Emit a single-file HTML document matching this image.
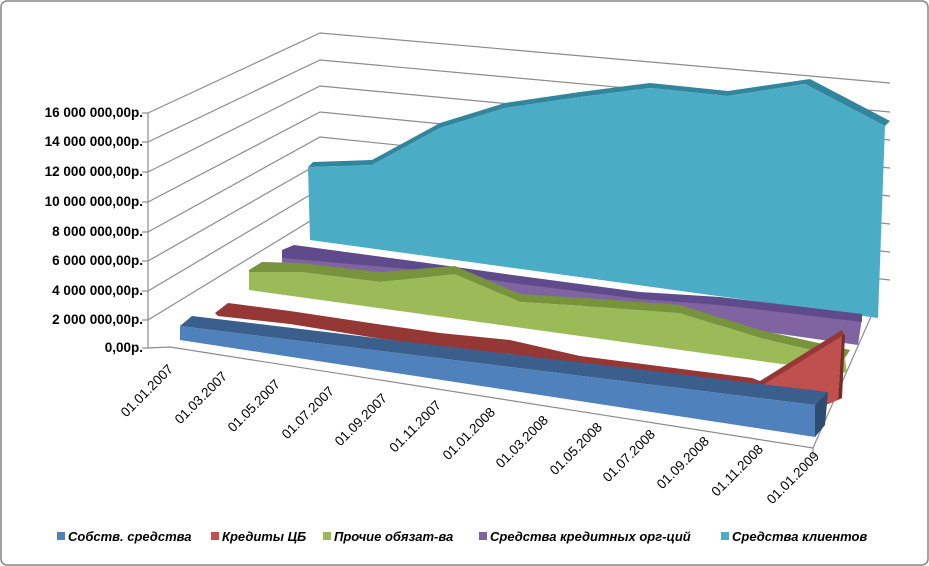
<!DOCTYPE html>
<html><head><meta charset="utf-8"><style>
body{margin:0;background:#fff}
svg{display:block}
text{font-family:"Liberation Sans",sans-serif}
</style></head><body>
<svg width="929" height="566" viewBox="0 0 929 566">
<rect x="1" y="1" width="927" height="564" rx="6" fill="#fff" stroke="#868686" stroke-width="1.5"/>
<g stroke="#8c8c8c" stroke-width="1.2" fill="none">
<polyline points="148,113 320,33 890,83"/>
<polyline points="148,142 320,60 890,112"/>
<polyline points="148,172 320,86 890,140"/>
<polyline points="148,202 320,112 890,168"/>
<polyline points="148,232 320,137 890,196"/>
<polyline points="148,261 320,163 890,224"/>
<polyline points="148,291 320,189 890,252"/>
<polyline points="148,320 320,215 890,280"/>
<line x1="148" y1="113" x2="148" y2="348"/>
<polyline points="148,348 170,347 813,448 877,303"/>
<line x1="813" y1="448" x2="813" y2="456"/>
</g>
<g stroke="#8c8c8c" stroke-width="1.2">
<line x1="142" y1="113" x2="148" y2="113"/><line x1="142" y1="142" x2="148" y2="142"/><line x1="142" y1="172" x2="148" y2="172"/><line x1="142" y1="202" x2="148" y2="202"/><line x1="142" y1="232" x2="148" y2="232"/><line x1="142" y1="261" x2="148" y2="261"/><line x1="142" y1="291" x2="148" y2="291"/><line x1="142" y1="320" x2="148" y2="320"/><line x1="142" y1="348" x2="148" y2="348"/>
</g>
<!-- cyan -->
<polygon points="308,167 372,165 440,128 505,108 580,97 650,88 728,96 805,84 885,126 890,121 810,79 728,91 650,83 580,92 505,103 440,123 372,160 313,162" fill="#31859c"/>
<polygon points="308,167 372,165 440,128 505,108 580,97 650,88 728,96 805,84 885,126 878,318 310,240" fill="#4bacc6"/>
<!-- purple -->
<polygon points="282,256 282,263 858,345 862,318 720,302 640,297 520,281 420,267" fill="#8064a2"/>
<polygon points="282,250 294,245 420,262 520,276 640,292 720,297 862,314 862,322 720,305 640,299 520,284 420,270 282,258" fill="#5f4b8b"/>
<!-- green -->
<polygon points="249,270 262,262 300,263 380,272 455,266 520,294 600,299 680,305 760,330 850,350 845,358 760,338 680,313 600,307 520,302 455,274 380,282 300,272 249,272" fill="#77933c"/>
<polygon points="249,272 300,272 380,282 455,274 520,302 600,307 680,313 760,338 845,358 847,373 249,290" fill="#9bbb59"/>
<!-- red -->
<polygon points="215,313 228,303 290,311 370,323 440,333 510,340 580,356 752,378 760,381 842,330 845,336 758,388 580,368 510,354 440,347 370,337 290,324 218,316" fill="#953735"/>
<polygon points="758,388 842,336 838,400 826,405" fill="#c0504d"/>
<polygon points="838,400 842,336 845,334 842,398" fill="#772c2a"/>
<!-- blue -->
<polygon points="180,326 192,316 828,392 815,405" fill="#3a5f8c"/>
<polygon points="180,326 815,405 815,437 180,340" fill="#4f81bd"/>
<polygon points="815,405 828,392 825,425 815,437" fill="#2e4b70"/>
<g font-size="13.5" font-weight="bold" fill="#000" text-anchor="end">
<text x="143" y="117">16 000 000,00р.</text>
<text x="143" y="146">14 000 000,00р.</text>
<text x="143" y="176">12 000 000,00р.</text>
<text x="143" y="206">10 000 000,00р.</text>
<text x="143" y="236">8 000 000,00р.</text>
<text x="143" y="265">6 000 000,00р.</text>
<text x="143" y="295">4 000 000,00р.</text>
<text x="143" y="324">2 000 000,00р.</text>
<text x="143" y="352">0,00р.</text>
</g>
<g font-size="13.5" fill="#000" text-anchor="end">
<text transform="translate(174,370) rotate(-45)">01.01.2007</text>
<text transform="translate(228,377) rotate(-45)">01.03.2007</text>
<text transform="translate(281,385) rotate(-45)">01.05.2007</text>
<text transform="translate(335,392) rotate(-45)">01.07.2007</text>
<text transform="translate(388,399) rotate(-45)">01.09.2007</text>
<text transform="translate(442,406) rotate(-45)">01.11.2007</text>
<text transform="translate(496,413) rotate(-45)">01.01.2008</text>
<text transform="translate(549,421) rotate(-45)">01.03.2008</text>
<text transform="translate(603,428) rotate(-45)">01.05.2008</text>
<text transform="translate(656,435) rotate(-45)">01.07.2008</text>
<text transform="translate(710,442) rotate(-45)">01.09.2008</text>
<text transform="translate(764,450) rotate(-45)">01.11.2008</text>
<text transform="translate(820,457) rotate(-45)">01.01.2009</text>
</g>
<g font-size="13" font-weight="bold" font-style="italic" fill="#000">
<rect x="57" y="532" width="8" height="8" fill="#4f81bd"/><text x="68" y="541">Собств. средства</text>
<rect x="211" y="532" width="8" height="8" fill="#c0504d"/><text x="222" y="541">Кредиты ЦБ</text>
<rect x="323" y="532" width="8" height="8" fill="#9bbb59"/><text x="334" y="541">Прочие обязат-ва</text>
<rect x="479" y="532" width="8" height="8" fill="#8064a2"/><text x="490" y="541">Средства кредитных орг-ций</text>
<rect x="721" y="532" width="8" height="8" fill="#4bacc6"/><text x="732" y="541">Средства клиентов</text>
</g>
</svg>
</body></html>
